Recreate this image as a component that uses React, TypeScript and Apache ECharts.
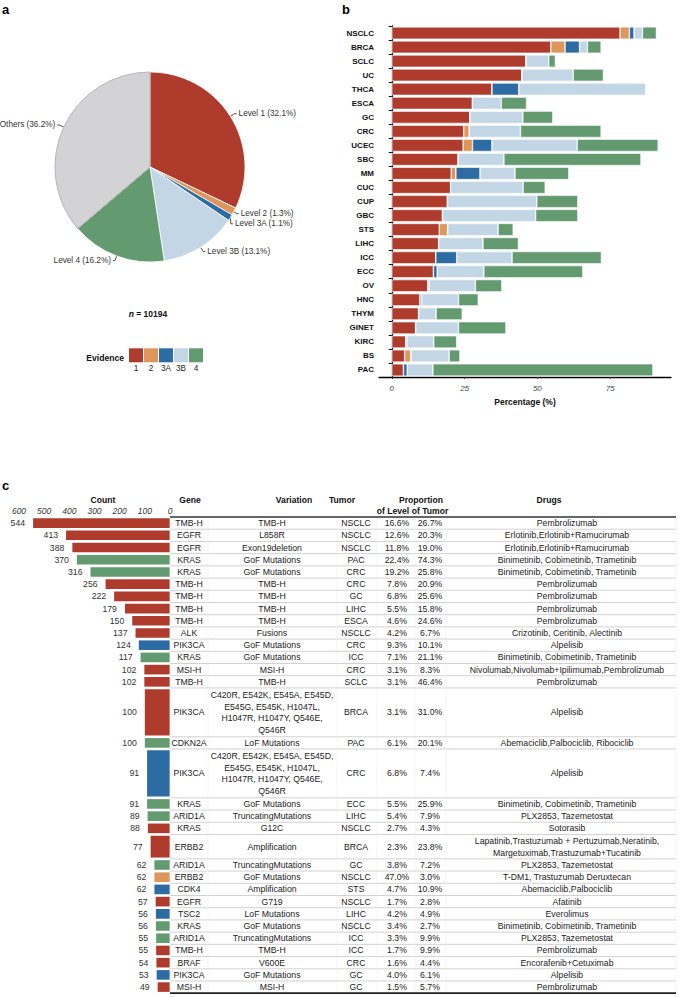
import React, { useEffect, useRef } from 'react';
import * as echarts from 'echarts';

const FONT = '"Liberation Sans", Arial, Helvetica, sans-serif';

// ---------- shared evidence levels ----------
const evidenceLevels = ['1', '2', '3A', '3B', '4'];
const evidenceColors = ['#AF3B2D', '#DF965B', '#2D6BA3', '#C3D6E6', '#639A70'];
const othersColor = '#D3D3D5';

// ---------- panel a ----------
const pieNames = ['Level 1', 'Level 2', 'Level 3A', 'Level 3B', 'Level 4', 'Others'];
const pieValues = [32.1, 1.3, 1.1, 13.1, 16.2, 36.2];
const sampleSize = 10194;

// ---------- panel b ----------
const tumorTypes = ['NSCLC', 'BRCA', 'SCLC', 'UC', 'THCA', 'ESCA', 'GC', 'CRC', 'UCEC', 'SBC', 'MM', 'CUC', 'CUP', 'GBC', 'STS', 'LIHC', 'ICC', 'ECC', 'OV', 'HNC', 'THYM', 'GINET', 'KIRC', 'BS', 'PAC'];
const pctLevel1 = [78.4, 54.6, 46.1, 44.7, 34.4, 27.7, 26.8, 24.7, 24.5, 22.8, 20.4, 20.2, 19.1, 17.4, 16.3, 16.1, 15.1, 14.3, 12.4, 9.7, 9.2, 8.2, 4.8, 4.4, 4.0];
const pctLevel2 = [3.2, 4.9, 0, 0, 0, 0, 0, 1.9, 3.2, 0, 1.6, 0, 0, 0, 2.9, 0, 0, 0, 0, 0, 0, 0, 0, 2.2, 0];
const pctLevel3A = [1.6, 5.0, 0, 0, 9.2, 0, 0, 0, 6.7, 0, 8.3, 0, 0, 0, 0, 0, 7.2, 1.3, 0.4, 0.6, 0, 0, 0.4, 0, 1.3];
const pctLevel3B = [2.9, 2.7, 7.8, 17.6, 43.7, 9.9, 18.2, 17.6, 29.3, 15.7, 12.0, 24.9, 30.7, 32.0, 17.3, 15.2, 19.0, 16.0, 15.9, 12.6, 6.0, 14.7, 9.2, 13.1, 8.8];
const pctLevel4 = [4.8, 4.7, 2.3, 10.4, 0, 8.7, 10.3, 27.7, 27.8, 47.1, 18.5, 7.6, 14.1, 14.5, 5.2, 12.2, 30.7, 34.0, 9.1, 6.8, 9.0, 16.3, 7.9, 3.7, 75.6];
const pctTicks = [0, 25, 50, 75];

// ---------- panel c ----------
const counts = [544, 413, 388, 370, 316, 256, 222, 179, 150, 137, 124, 117, 102, 102, 100, 100, 91, 91, 89, 88, 77, 62, 62, 62, 57, 56, 56, 55, 55, 54, 53, 49];
const rowLevels = ['1', '1', '1', '4', '4', '1', '1', '1', '1', '1', '3A', '4', '1', '1', '1', '4', '3A', '4', '4', '1', '1', '4', '2', '3A', '1', '3A', '4', '4', '1', '1', '3A', '1'];
const genes = ['TMB-H', 'EGFR', 'EGFR', 'KRAS', 'KRAS', 'TMB-H', 'TMB-H', 'TMB-H', 'TMB-H', 'ALK', 'PIK3CA', 'KRAS', 'MSI-H', 'TMB-H', 'PIK3CA', 'CDKN2A', 'PIK3CA', 'KRAS', 'ARID1A', 'KRAS', 'ERBB2', 'ARID1A', 'ERBB2', 'CDK4', 'EGFR', 'TSC2', 'KRAS', 'ARID1A', 'TMB-H', 'BRAF', 'PIK3CA', 'MSI-H'];
const PIK3CA_HOTSPOTS = 'C420R, E542K, E545A, E545D,\nE545G, E545K, H1047L,\nH1047R, H1047Y, Q546E,\nQ546R';
const variations = ['TMB-H', 'L858R', 'Exon19deletion', 'GoF Mutations', 'GoF Mutations', 'TMB-H', 'TMB-H', 'TMB-H', 'TMB-H', 'Fusions', 'GoF Mutations', 'GoF Mutations', 'MSI-H', 'TMB-H', PIK3CA_HOTSPOTS, 'LoF Mutations', PIK3CA_HOTSPOTS, 'GoF Mutations', 'TruncatingMutations', 'G12C', 'Amplification', 'TruncatingMutations', 'GoF Mutations', 'Amplification', 'G719', 'LoF Mutations', 'GoF Mutations', 'TruncatingMutations', 'TMB-H', 'V600E', 'GoF Mutations', 'MSI-H'];
const tumors = ['NSCLC', 'NSCLC', 'NSCLC', 'PAC', 'CRC', 'CRC', 'GC', 'LIHC', 'ESCA', 'NSCLC', 'CRC', 'ICC', 'CRC', 'SCLC', 'BRCA', 'PAC', 'CRC', 'ECC', 'LIHC', 'NSCLC', 'BRCA', 'GC', 'NSCLC', 'STS', 'NSCLC', 'LIHC', 'NSCLC', 'ICC', 'ICC', 'CRC', 'GC', 'GC'];
const propOfLevel = [16.6, 12.6, 11.8, 22.4, 19.2, 7.8, 6.8, 5.5, 4.6, 4.2, 9.3, 7.1, 3.1, 3.1, 3.1, 6.1, 6.8, 5.5, 5.4, 2.7, 2.3, 3.8, 47.0, 4.7, 1.7, 4.2, 3.4, 3.3, 1.7, 1.6, 4.0, 1.5];
const propOfTumor = [26.7, 20.3, 19.0, 74.3, 25.8, 20.9, 25.6, 15.8, 24.6, 6.7, 10.1, 21.1, 8.3, 46.4, 31.0, 20.1, 7.4, 25.9, 7.9, 4.3, 23.8, 7.2, 3.0, 10.9, 2.8, 4.9, 2.7, 9.9, 9.9, 4.4, 6.1, 5.7];
const PEM = 'Pembrolizumab';
const ERL = 'Erlotinib,Erlotinib+Ramucirumab';
const BCT = 'Binimetinib, Cobimetinib, Trametinib';
const PLX = 'PLX2853, Tazemetostat';
const ALP = 'Alpelisib';
const drugs = [PEM, ERL, ERL, BCT, BCT, PEM, PEM, PEM, PEM, 'Crizotinib, Ceritinib, Alectinib', ALP, BCT, 'Nivolumab,Nivolumab+Ipilimumab,Pembrolizumab', PEM, ALP, 'Abemaciclib,Palbociclib, Ribociclib', ALP, BCT, PLX, 'Sotorasib', 'Lapatinib,Trastuzumab + Pertuzumab,Neratinib,\nMargetuximab,Trastuzumab+Tucatinib', PLX, 'T-DM1, Trastuzumab Deruxtecan', 'Abemaciclib,Palbociclib', 'Afatinib', 'Everolimus', BCT, PLX, PEM, 'Encorafenib+Cetuximab', ALP, PEM];

// ---------- layout ----------
const TABLE_TOP = 517;
const ROW_H = 12.21;
const TABLE_LEFT = 170;
const TABLE_RIGHT = 676;
const COL_GENE = 189;
const COL_VAR = 272;
const COL_TUMOR = 356;
const COL_LEVEL = 397;
const COL_TPCT = 430;
const COL_DRUGS = 567;
const COL_BOUNDS = [TABLE_LEFT, 208, 337, 377, 415, 446, TABLE_RIGHT];
const CELL_FONT = 8.7;

function buildOption() {
  const rowSpan = variations.map((v, i) => Math.max(v.split('\n').length, drugs[i].split('\n').length));
  const rowStart: number[] = [];
  let acc = 0;
  rowSpan.forEach((s) => { rowStart.push(acc); acc += s; });
  const totalUnits = acc;

  const levelColor = (lv: string) => evidenceColors[evidenceLevels.indexOf(lv)];

  const txt = (text: string, x: number, y: number, opts: any = {}) => ({
    type: 'text',
    x,
    y,
    silent: true,
    style: {
      text,
      fill: opts.fill || '#222',
      fontSize: opts.fontSize || CELL_FONT,
      fontFamily: FONT,
      fontWeight: opts.fontWeight || 'normal',
      fontStyle: opts.fontStyle || 'normal',
      align: opts.align || 'center',
      textAlign: opts.align || 'center',
      verticalAlign: opts.verticalAlign || 'middle',
      textVerticalAlign: opts.verticalAlign || 'middle',
      lineHeight: opts.lineHeight || 11.7,
      rich: opts.rich,
    },
  });

  const barStack = [pctLevel1, pctLevel2, pctLevel3A, pctLevel3B, pctLevel4].map((arr, k) => ({
    type: 'bar',
    name: evidenceLevels[k],
    stack: 'pct',
    xAxisIndex: 0,
    yAxisIndex: 0,
    data: arr,
    barCategoryGap: '12%',
    itemStyle: { color: evidenceColors[k], borderColor: '#ffffff', borderWidth: 0.6 },
    silent: true,
  }));

  const tableSeries = {
    type: 'custom',
    xAxisIndex: 1,
    yAxisIndex: 1,
    clip: false,
    silent: true,
    data: counts.map((c, i) => [c, rowStart[i], rowSpan[i]]),
    renderItem: (params: any, api: any) => {
      const i = params.dataIndex;
      const count = api.value(0);
      const start = api.value(1);
      const span = api.value(2);
      const pTop = api.coord([0, start]);
      const pBot = api.coord([0, start + span]);
      const pVal = api.coord([count, start]);
      const xr = pTop[0];
      const yt = pTop[1];
      const yb = pBot[1];
      const yc = (yt + yb) / 2;
      const xl = pVal[0];
      const children: any[] = [];
      children.push({
        type: 'rect',
        shape: { x: xl, y: yt + 1.3, width: xr - xl, height: yb - yt - 2.6 },
        style: { fill: levelColor(rowLevels[i]) },
      });
      children.push(txt(String(count), xl - 8, yc, { align: 'right', fill: '#333' }));
      // faint vertical cell borders
      COL_BOUNDS.forEach((bx) => {
        children.push({ type: 'line', shape: { x1: bx, y1: yt, x2: bx, y2: yb }, style: { stroke: '#f1f1f1', lineWidth: 0.8 } });
      });
      children.push(txt(genes[i], COL_GENE, yc));
      children.push(txt(variations[i], COL_VAR, yc));
      children.push(txt(tumors[i], COL_TUMOR, yc));
      children.push(txt(propOfLevel[i].toFixed(1) + '%', COL_LEVEL, yc));
      children.push(txt(propOfTumor[i].toFixed(1) + '%', COL_TPCT, yc));
      children.push(txt(drugs[i], COL_DRUGS, yc));
      if (i === 0) {
        children.push({ type: 'line', shape: { x1: TABLE_LEFT, y1: yt, x2: TABLE_RIGHT, y2: yt }, style: { stroke: '#333', lineWidth: 1.6 } });
      }
      const last = i === counts.length - 1;
      children.push({
        type: 'line',
        shape: { x1: TABLE_LEFT, y1: yb, x2: TABLE_RIGHT, y2: yb },
        style: { stroke: last ? '#222' : '#d2d2d2', lineWidth: last ? 1.8 : 1 },
      });
      return { type: 'group', children };
    },
  };

  const headerFont = { fontWeight: 'bold', fontSize: 8.6, fill: '#111' };

  const graphic: any[] = [
    txt('a', 2, 9, { fontWeight: 'bold', fontSize: 13, align: 'left', fill: '#000' }),
    txt('b', 342, 9, { fontWeight: 'bold', fontSize: 13, align: 'left', fill: '#000' }),
    txt('c', 2, 485, { fontWeight: 'bold', fontSize: 13, align: 'left', fill: '#000' }),
    txt('{i|n} = ' + sampleSize, 148, 314, {
      fontWeight: 'bold', fontSize: 8.5, fill: '#111',
      rich: { i: { fontStyle: 'italic', fontWeight: 'bold', fontSize: 8.5, fontFamily: FONT, fill: '#111' } },
    }),
    txt('Evidence', 124, 357.5, { ...headerFont, align: 'right' }),
    txt('Count', 103, 500, headerFont),
    txt('Gene', 190, 500, headerFont),
    txt('Variation', 294, 500, headerFont),
    txt('Tumor', 342, 500, headerFont),
    txt('Proportion', 421, 500, headerFont),
    txt('of Level', 393, 511, headerFont),
    txt('of Tumor', 430, 511, headerFont),
    txt('Drugs', 549, 500, headerFont),
  ];
  evidenceLevels.forEach((lv, k) => {
    const x = 129 + k * 15;
    graphic.push({
      type: 'rect',
      silent: true,
      shape: { x, y: 348.3, width: 14, height: 14 },
      style: { fill: evidenceColors[k] },
    });
    graphic.push(txt(lv, x + 7, 368, { fontSize: 8.2, fill: '#222' }));
  });

  return {
    animation: false,
    backgroundColor: '#ffffff',
    textStyle: { fontFamily: FONT },
    grid: [
      { left: 379, top: 26, width: 292, height: 351 },
      { left: 19, top: TABLE_TOP, width: TABLE_LEFT - 19, height: totalUnits * ROW_H },
    ],
    xAxis: [
      {
        gridIndex: 0,
        type: 'value',
        min: -4.4,
        max: 95.9,
        axisLine: { show: true, lineStyle: { color: '#000', width: 1.3 } },
        axisTick: { show: true, length: 2, customValues: pctTicks, lineStyle: { color: '#333' } },
        axisLabel: {
          customValues: pctTicks,
          fontStyle: 'italic',
          fontSize: 8,
          color: '#444',
          margin: 7,
          fontFamily: FONT,
        },
        splitLine: { show: false },
        name: 'Percentage (%)',
        nameLocation: 'middle',
        nameGap: 20,
        nameTextStyle: { fontWeight: 'bold', fontSize: 8.5, color: '#111', fontFamily: FONT },
      },
      {
        gridIndex: 1,
        type: 'value',
        inverse: true,
        position: 'top',
        min: 0,
        max: 600,
        interval: 100,
        axisLine: { show: false },
        axisTick: { show: false },
        axisLabel: { fontStyle: 'italic', fontSize: 8.5, color: '#333', margin: 2, fontFamily: FONT },
        splitLine: { show: false },
      },
    ],
    yAxis: [
      {
        gridIndex: 0,
        type: 'category',
        data: tumorTypes,
        inverse: true,
        axisLine: { show: true, lineStyle: { color: '#000', width: 1.3 } },
        axisTick: { show: true, length: 3, lineStyle: { color: '#000' } },
        axisLabel: { fontWeight: 'bold', fontSize: 8, color: '#111', margin: 5, fontFamily: FONT },
        splitLine: { show: false },
      },
      {
        gridIndex: 1,
        type: 'value',
        inverse: true,
        min: 0,
        max: totalUnits,
        show: false,
        splitLine: { show: false },
      },
    ],
    series: [
      {
        type: 'pie',
        center: [150, 167],
        radius: 95,
        startAngle: 90,
        clockwise: true,
        silent: true,
        avoidLabelOverlap: true,
        data: pieNames.map((n, i) => ({
          name: n,
          value: pieValues[i],
          itemStyle: {
            color: i < evidenceColors.length ? evidenceColors[i] : othersColor,
            borderColor: i < evidenceColors.length ? '#ffffff' : '#b5b5b5',
            borderWidth: i < evidenceColors.length ? 0.8 : 1,
          },
        })),
        label: {
          formatter: '{b} ({c}%)',
          fontSize: 8.2,
          fontFamily: FONT,
          color: '#333',
          distanceToLabelLine: 2,
          overflow: 'none',
          bleedMargin: 0,
        },
        labelLine: { length: 5, length2: 2, lineStyle: { color: '#222', width: 0.8 } },
      },
      ...barStack,
      tableSeries,
    ],
    graphic,
  };
}

export default function App() {
  const ref = useRef<HTMLDivElement>(null);
  useEffect(() => {
    if (!ref.current) return;
    const chart = echarts.init(ref.current, null, { renderer: 'svg' });
    chart.setOption(buildOption() as any);
    return () => chart.dispose();
  }, []);
  return (
    <div
      ref={ref}
      style={{ position: 'absolute', left: 0, top: 0, width: 680, height: 997, background: '#fff' }}
    />
  );
}
